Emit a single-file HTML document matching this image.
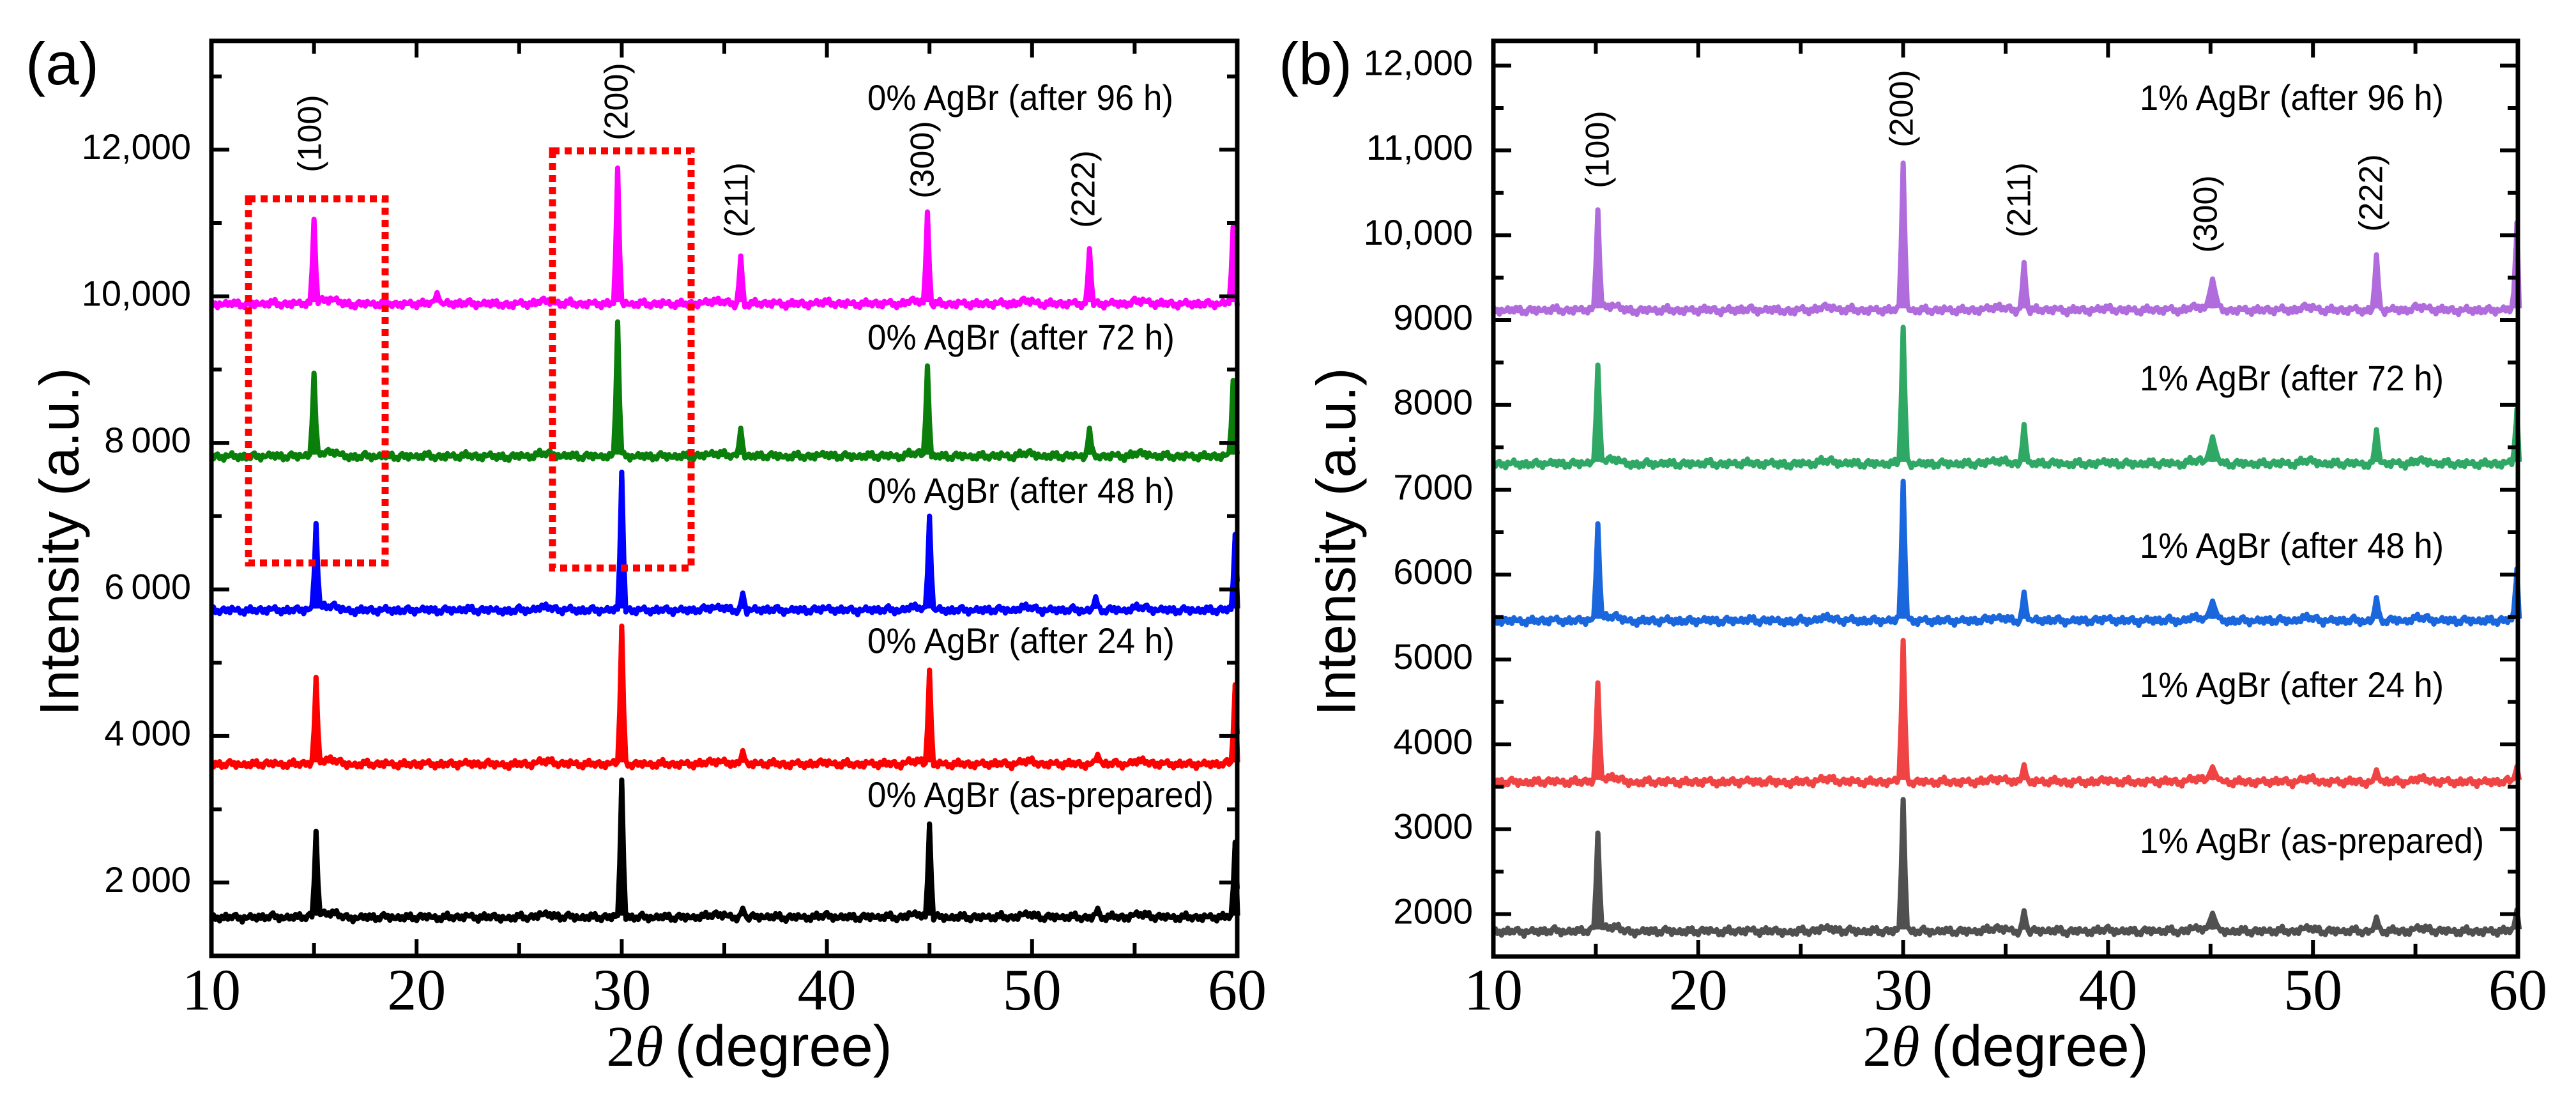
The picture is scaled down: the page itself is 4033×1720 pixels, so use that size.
<!DOCTYPE html>
<html><head><meta charset="utf-8"><style>
html,body{margin:0;padding:0;background:#fff;}
svg{display:block;}
text{font-family:"Liberation Sans",sans-serif;}
.serif{font-family:"Liberation Serif",serif;}
</style></head><body>
<svg id="fig" width="4033" height="1720" viewBox="0 0 4033 1720" xmlns="http://www.w3.org/2000/svg">
<g id="pa"></g>
<g id="pb"></g>
</svg>
<script>
// ---------- data ----------
const xTicks = [10,20,30,40,50,60];
const xTickLabels = ["10","20","30","40","50","60"];
const aYTicks = [2000,4000,6000,8000,10000,12000];
const aYTickLabels = ["2\u2009000","4\u2009000","6\u2009000","8\u2009000","10,000","12,000"];
const bYTicks = [2000,3000,4000,5000,6000,7000,8000,9000,10000,11000,12000];
const bYTickLabels = ["2000","3000","4000","5000","6000","7000","8000","9000","10,000","11,000","12,000"];
// baseline noise (intensity offsets), sampled every 0.5 degree from 10 to 60
const noise = [0,-30,20,-40,10,-20,30,-35,15,-10,40,80,90,0,-40,20,-30,25,-35,10,-25,30,-40,15,-20,35,-30,20,-15,-40,
  25,-30,60,60,-20,30,-35,20,-25,15,40,-30,20,-35,25,-30,15,-25,30,50,50,-20,-35,20,-15,30,-40,25,-30,15,
  40,-25,20,-35,25,-20,30,-40,60,60,-30,20,-35,25,-30,15,-20,30,-35,60,60,-30,20,-25,30,-40,15,-25,30,-35,
  60,60,-20,25,-35,20,-30,15,-25,30,0];
// fine jitter (intensity offsets) repeated every 0.1 degree step
const jitter = [0,35,-25,10,-40,30,-10,45,-30,5,-35,20,40,-20,15,-45,25,-5];
// panel a
const aNames = ["0% AgBr (as-prepared)","0% AgBr (after 24 h)","0% AgBr (after 48 h)","0% AgBr (after 72 h)","0% AgBr (after 96 h)"];
const aBase = [1530,3620,5720,7820,9900];
const aPeakPos = [[15.1,30.0,35.9,45.0,53.2,59.9],[15.1,30.0,35.9,45.0,53.2,59.9],[15.1,30.0,35.9,45.0,53.1,59.9],[15.0,29.8,35.8,44.9,52.8,59.8],[15.0,21.0,29.8,35.8,44.9,52.8,59.8]];
const aPeakVal = [[2700,3400,1650,2800,1650,2550],[4800,5500,3800,4900,3750,4700],[6900,7600,5950,7000,5900,6750],[8950,9650,8200,9050,8200,8850],[11050,10050,11750,10550,11150,10650,10950]];
const aColors = ["#000000","#ff0000","#0000ff","#0b7f0b","#ff00ff"];
// panel b
const bNames = ["1% AgBr (as-prepared)","1% AgBr (after 24 h)","1% AgBr (after 48 h)","1% AgBr (after 72 h)","1% AgBr (after 96 h)"];
const bBase = [1800,3560,5460,7310,9120];
const bPeakPos = [[15.1,30.0,35.9,45.1,53.1,59.95],[15.1,30.0,35.9,45.1,53.1,59.95],[15.1,30.0,35.9,45.1,53.1,59.95],[15.1,30.0,35.9,45.1,53.1,59.95],[15.1,30.0,35.9,45.1,53.1,59.95]];
const bPeakVal = [[2955,3350,2040,2010,1965,2050],[4725,5225,3760,3735,3700,3740],[6600,7100,5795,5690,5730,6070],[8470,8915,7770,7625,7710,7950],[10300,10850,9680,9485,9770,10150]];
const bColors = ["#505050","#f04444","#1a66dc","#2ea864","#b06cdc"];
const hkl = ["(100)","(200)","(211)","(300)","(222)"];
const hklPos = [15,30,36,45,53];

const NS="http://www.w3.org/2000/svg";
function mk(parent,tag,attrs,txt){const e=document.createElementNS(NS,tag);for(const k in attrs)e.setAttribute(k,attrs[k]);if(txt!==undefined)e.textContent=txt;parent.appendChild(e);return e;}

function panel(g,cfg){
  const X=v=>cfg.x0+(v-10)*(cfg.x1-cfg.x0)/50;
  const Y=v=>cfg.yBot-(v-cfg.ymin)*cfg.k;
  for(let s=0;s<cfg.base.length;s++){
    let d="";
    for(let i=0;i<=500;i++){
      const x=10+i*0.1;
      const ni=(x-10)/0.5, n0=Math.floor(ni), f=ni-n0;
      const nv=(noise[Math.min(n0,noise.length-1)]||0)*(1-f)+(noise[Math.min(n0+1,noise.length-1)]||0)*f;
      let v=cfg.base[s]+(nv*0.6+jitter[(i+s*3)%jitter.length])*cfg.nscale;
      const pp=cfg.pos[s], pv=cfg.val[s];
      for(let j=0;j<pp.length;j++){
        const w=cfg.wid(pp[j]);
        const dx=Math.abs(x-pp[j]);
        if(dx<w){const h=pv[j]-cfg.base[s];v=Math.max(v,cfg.base[s]+h*Math.pow(1-dx/w,1.4));}
      }
      d+=(i?"L":"M")+X(x).toFixed(1)+","+Y(v).toFixed(1);
    }
    // ensure peak tops are hit
    const p=mk(g,"path",{d:d,fill:"none",stroke:cfg.colors[s],"stroke-width":8,"stroke-linejoin":"round"});
    
    
    cfg.pos[s].forEach((pp,j)=>{
      const pk=mk(g,"path",{d:"M"+X(pp-0.12)+","+Y(cfg.base[s]+20)+"L"+X(pp)+","+Y(cfg.val[s][j])+"L"+X(pp+0.12)+","+Y(cfg.base[s]+20),fill:"none",stroke:cfg.colors[s],"stroke-width":8,"stroke-linejoin":"round"});
      
      
    });
    const t=mk(g,"text",{x:cfg.lx,y:cfg.ly[s],"font-size":56,"dominant-baseline":"middle",textLength:cfg.lw[s],lengthAdjust:"spacingAndGlyphs"},cfg.names[s]);
    
    
  }
  const fr=mk(g,"rect",{x:cfg.x0,y:cfg.yTop,width:cfg.x1-cfg.x0,height:cfg.yBot-cfg.yTop,fill:"none",stroke:"#000","stroke-width":7});
  
  
  for(let v=10;v<=60;v+=5){
    const L=(v%10===0)?26:20;
    mk(g,"line",{x1:X(v),x2:X(v),y1:cfg.yBot,y2:cfg.yBot-L,stroke:"#000","stroke-width":6});
    mk(g,"line",{x1:X(v),x2:X(v),y1:cfg.yTop,y2:cfg.yTop+L,stroke:"#000","stroke-width":6});
  }
  xTicks.forEach((v,i)=>{
    const t=mk(g,"text",{x:X(v),y:1580,"font-size":92,"text-anchor":"middle",class:"serif"},xTickLabels[i]);
    
    
  });
  for(let v=cfg.minorStart;v<cfg.ymax;v+=cfg.minor){
    const major=cfg.yt.includes(v);
    const L=major?28:16;
    mk(g,"line",{x1:cfg.x0,x2:cfg.x0+L,y1:Y(v),y2:Y(v),stroke:"#000","stroke-width":6});
    mk(g,"line",{x1:cfg.x1,x2:cfg.x1-L,y1:Y(v),y2:Y(v),stroke:"#000","stroke-width":6});
  }
  cfg.yt.forEach((v,i)=>{
    const t=mk(g,"text",{x:cfg.x0-32,y:Y(v),"font-size":56,"text-anchor":"end","dominant-baseline":"middle"},cfg.ytl[i]);
    
    
  });
  hkl.forEach((h,i)=>{
    const t=mk(g,"text",{x:0,y:0,"font-size":52,"text-anchor":"middle","dominant-baseline":"middle",transform:"translate("+cfg.hx[i]+","+cfg.hy[i]+") rotate(-90)"},h);
    
    
  });
  const yt=mk(g,"text",{x:0,y:0,"font-size":86,"text-anchor":"middle","dominant-baseline":"middle",transform:"translate("+cfg.ytx+",848) rotate(-90)"},"Intensity (a.u.)");
  
  
  const xt=mk(g,"text",{x:cfg.xtx,y:1668,"font-size":90,"text-anchor":"middle"});
  
  
  mk(xt,"tspan",{class:"serif"},"2");
  mk(xt,"tspan",{class:"serif","font-style":"italic"},"\u03B8");
  mk(xt,"tspan",{},"\u2009(degree)");
  const pl=mk(g,"text",{x:cfg.plx,y:132,"font-size":94},cfg.plabel);
  
  
}

panel(document.getElementById("pa"),{id:"a",x0:331,x1:1937,yTop:64,yBot:1496,ymin:1000,k:0.1147,ymax:13480,
  base:aBase,pos:aPeakPos,val:aPeakVal,colors:aColors,names:aNames,nscale:1.0,
  wid:p=>0.2,
  lx:1358,ly:[1248,1007,772,532,157],lw:[542,481,481,481,479],
  yt:aYTicks,ytl:aYTickLabels,minor:1000,minorStart:2000,
  hx:[489,969,1157,1448,1700],hy:[209,159,313,250,296],ytx:100,xtx:1173,plx:40,plabel:"(a)"});
panel(document.getElementById("pb"),{id:"b",x0:2338,x1:3942,yTop:64,yBot:1497,ymin:1500,k:0.1328,ymax:12290,
  base:bBase,pos:bPeakPos,val:bPeakVal,colors:bColors,names:bNames,nscale:0.9,
  wid:p=>(p>44&&p<46)?0.4:0.22,
  lx:3350,ly:[1320,1076,858,596,157],lw:[539,476,476,476,476],
  yt:bYTicks,ytl:bYTickLabels,minor:500,minorStart:2000,
  hx:[2505,2981,3165,3457,3716],hy:[234,170,313,335,302],ytx:2099,xtx:3140,plx:2002,plabel:"(b)"});

const pa=document.getElementById("pa");
const boxes=[[389,311,603,881],[865,236,1082,889]];
boxes.forEach((b,i)=>{
  const r=mk(pa,"rect",{x:b[0],y:b[1],width:b[2]-b[0],height:b[3]-b[1],fill:"none",stroke:"#ff0000","stroke-width":11,"stroke-dasharray":"11 8"});
  
  
});
</script>
</body></html>
